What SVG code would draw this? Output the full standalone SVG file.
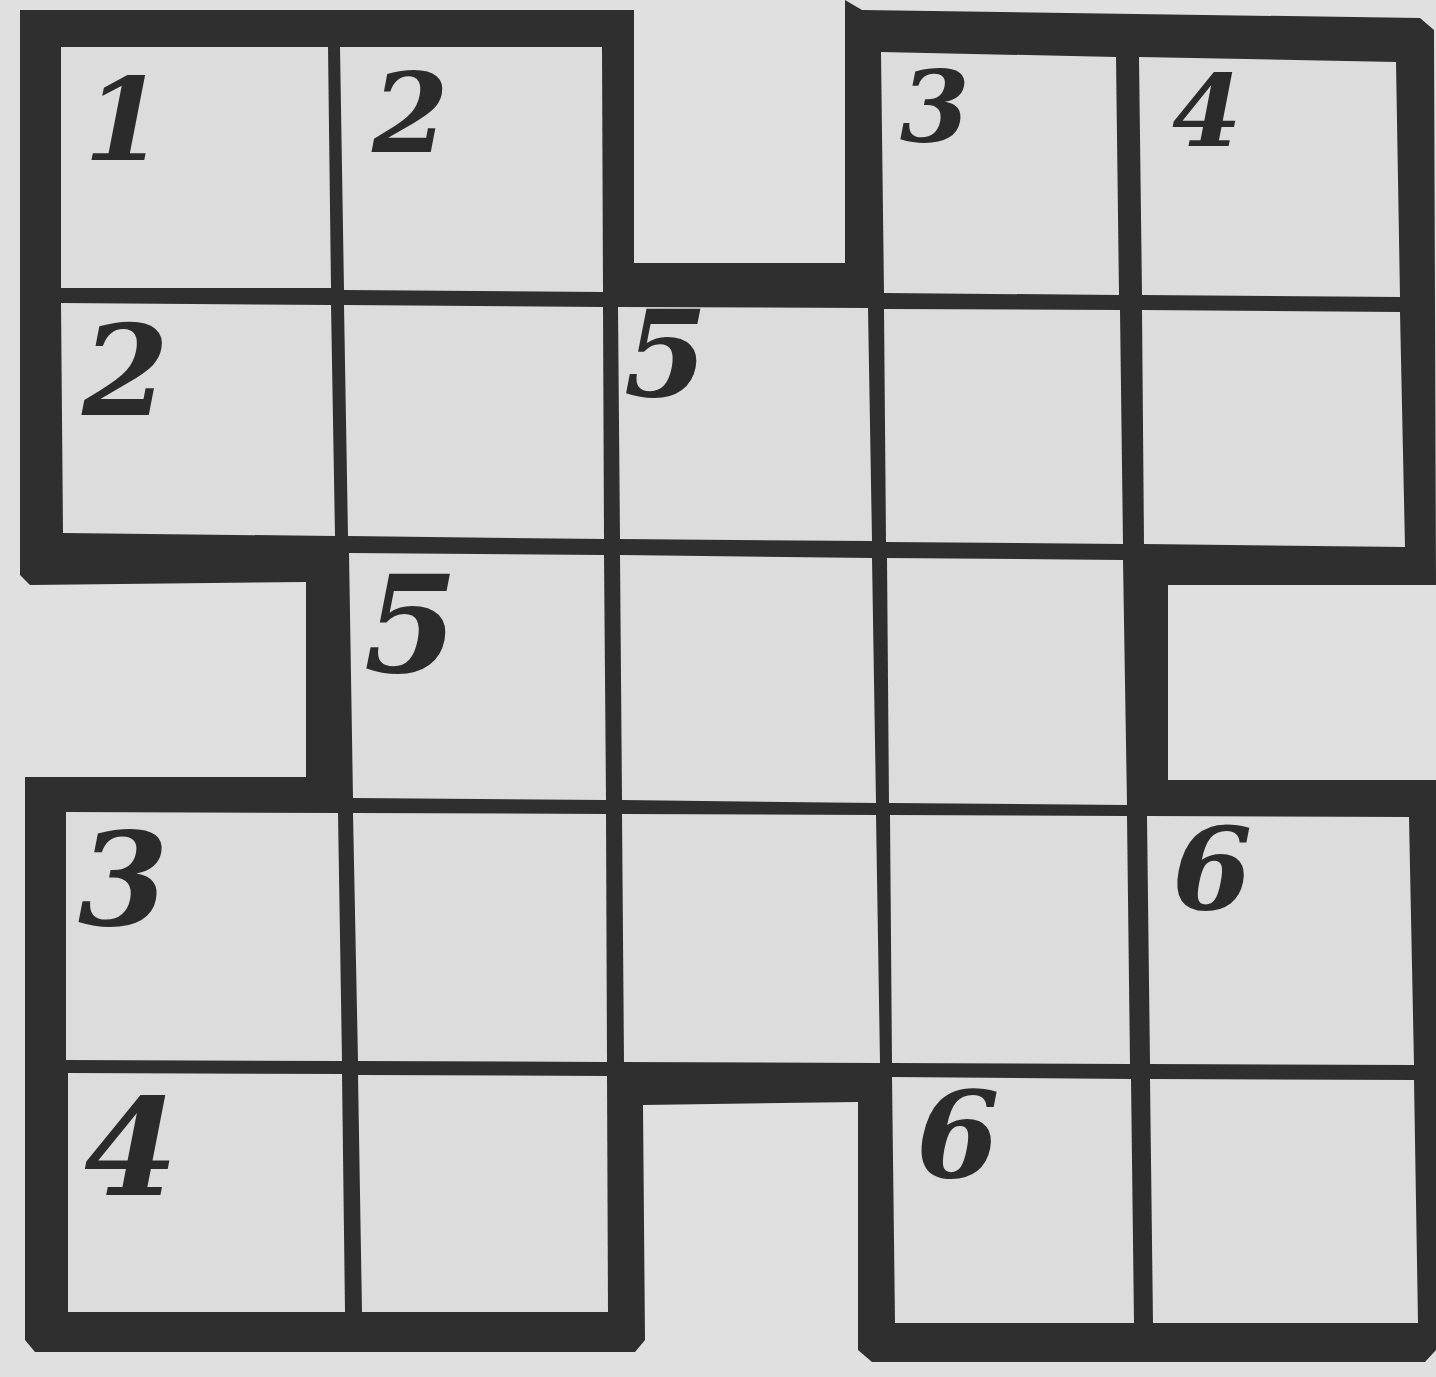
<svg xmlns="http://www.w3.org/2000/svg" width="1436" height="1377" viewBox="0 0 1436 1377">
<style>
.cell{fill:#dcdcdc}
.d{font-family:"DejaVu Serif","Liberation Serif",serif;font-weight:bold;font-style:italic;fill:#2b2b2b}
</style>
<rect x="0" y="0" width="1436" height="1377" fill="#e0e0e0"/>
<g id="frame">
<polygon fill="#2f2f2f" points="20,10 634,10 634,263 845,263 845,0 862,10 1420,18 1434,30 1436,585 1168,585 1168,780 1436,780 1436,1350 1425,1362 872,1362 858,1350 858,1102 643,1105 645,1340 635,1352 35,1352 25,1340 25,777 306,777 306,582 30,585 20,575"/>
</g>
<g id="cells">
<polygon class="cell" id="r0c0" points="61,47 328,47 331,288 61,288"/>
<polygon class="cell" id="r0c1" points="340,47 602,47 603,292 344,290"/>
<polygon class="cell" id="r0c3" points="881,52 1116,57 1119,295 884,293"/>
<polygon class="cell" id="r0c4" points="1139,57 1396,62 1400,297 1142,295"/>
<polygon class="cell" id="r1c0" points="61,303 331,305 335,536 63,533"/>
<polygon class="cell" id="r1c1" points="344,305 603,307 604,539 348,536"/>
<polygon class="cell" id="r1c2" points="618,307 868,308 872,541 620,539"/>
<polygon class="cell" id="r1c3" points="884,309 1120,310 1123,544 886,542"/>
<polygon class="cell" id="r1c4" points="1142,310 1400,312 1405,547 1144,544"/>
<polygon class="cell" id="r2c1" points="349,553 604,555 606,800 353,798"/>
<polygon class="cell" id="r2c2" points="620,555 872,558 876,803 622,800"/>
<polygon class="cell" id="r2c3" points="887,558 1123,560 1127,805 889,803"/>
<polygon class="cell" id="r3c0" points="66,812 338,813 342,1061 66,1060"/>
<polygon class="cell" id="r3c1" points="353,813 606,814 607,1062 358,1061"/>
<polygon class="cell" id="r3c2" points="622,814 876,815 880,1063 624,1062"/>
<polygon class="cell" id="r3c3" points="890,815 1127,816 1130,1064 892,1063"/>
<polygon class="cell" id="r3c4" points="1147,816 1409,817 1414,1065 1150,1064"/>
<polygon class="cell" id="r4c0" points="68,1073 342,1074 345,1312 68,1312"/>
<polygon class="cell" id="r4c1" points="358,1075 607,1076 608,1312 362,1312"/>
<polygon class="cell" id="r4c3" points="892,1077 1131,1079 1134,1323 895,1323"/>
<polygon class="cell" id="r4c4" points="1150,1079 1414,1080 1418,1323 1153,1323"/>
</g>
<g id="labels">
<text class="d" x="84" y="160" font-size="115">1</text>
<text class="d" x="372" y="152" font-size="110">2</text>
<text class="d" x="900" y="142" font-size="100">3</text>
<text class="d" x="1172" y="146" font-size="100">4</text>
<text class="d" x="82" y="415" font-size="125">2</text>
<text class="d" x="624" y="396" font-size="120">5</text>
<text class="d" x="364" y="672" font-size="135">5</text>
<text class="d" x="78" y="925" font-size="130">3</text>
<text class="d" x="1172" y="909" font-size="115">6</text>
<text class="d" x="84" y="1195" font-size="135">4</text>
<text class="d" x="916" y="1177" font-size="120">6</text>
</g>
</svg>
